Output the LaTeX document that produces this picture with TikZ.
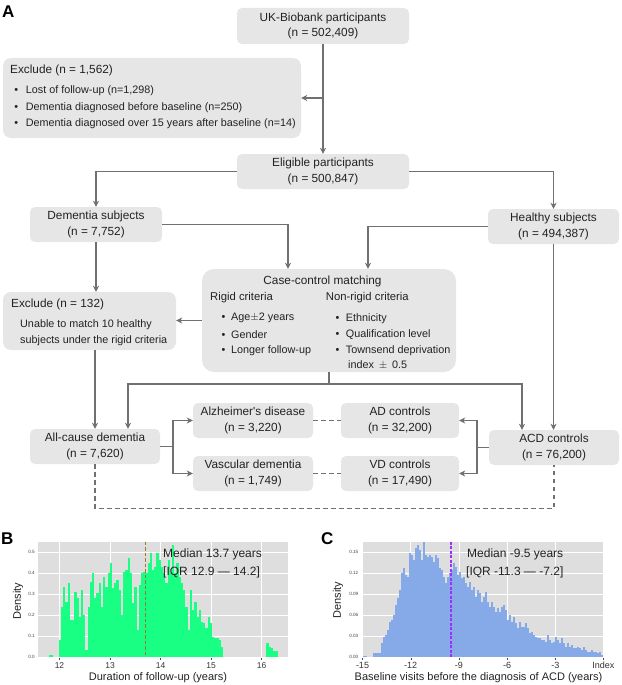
\documentclass[tikz,border=0pt]{standalone}
\usepackage{fontspec}
\setmainfont{Liberation Sans}
\usetikzlibrary{arrows.meta}
\definecolor{boxfill}{HTML}{E6E6E6}
\definecolor{lnc}{HTML}{707070}
\definecolor{txt}{HTML}{222222}
\definecolor{plotbg}{HTML}{DEDEDE}
\definecolor{histgreen}{HTML}{19FF84}
\definecolor{histblue}{HTML}{86AAE8}
\definecolor{medB}{HTML}{9A7A28}
\definecolor{medC}{HTML}{9B30FF}
\newcommand{\bl}[2][11.5pt]{\makebox[#1][l]{\textbullet}#2}
\tikzset{
 box/.style={fill=boxfill, rounded corners=5pt, inner sep=0pt, align=center, text=txt,
   font=\fontsize{11.8}{15.5}\selectfont},
 lbl/.style={inner sep=0pt, anchor=west, text=txt, font=\fontsize{11.8}{14}\selectfont},
 blt/.style={inner sep=0pt, anchor=west, text=txt, font=\fontsize{10.8}{13}\selectfont},
 conn/.style={draw=lnc, line width=1.3pt},
 arr/.style={conn, -{Stealth[length=6pt,width=6pt,inset=1.8pt]}},
 dsh/.style={draw=lnc, line width=1.2pt, dash pattern=on 4.5pt off 3.5pt},
 panel/.style={inner sep=0pt, anchor=west, font=\fontsize{17}{17}\bfseries},
 ytk/.style={inner sep=0pt, anchor=east, text=black!75, font=\fontsize{4.6}{5}\selectfont},
 xtk/.style={inner sep=0pt, anchor=center, text=black!80},
 axt/.style={inner sep=0pt, anchor=center, text=txt, font=\fontsize{11}{13}\selectfont},
 ann/.style={inner sep=0pt, anchor=west, text=txt, font=\fontsize{12}{14}\selectfont},
 grd/.style={draw=white, line width=0.5pt},
}
\begin{document}
\begin{tikzpicture}[x=1pt,y=-1pt]
\useasboundingbox (0,0) rectangle (621,685);

% ---------- Panel A ----------
\node[panel] (pa) at (2,12) {A};

\node[box, minimum width=172pt, minimum height=36pt] (uk) at (323,26) {UK-Biobank participants\\(n = 502,409)};
\node[box, rounded corners=8pt, minimum width=298pt, minimum height=80pt] (ex1) at (152,98) {};
\node[lbl] (ex1t) at (10,70) {Exclude (n = 1,562)};
\node[blt] (ex1a) at (14.2,90.7) {\bl{Lost of follow-up (n=1,298)}};
\node[blt] (ex1b) at (14.2,107.3) {\bl{Dementia diagnosed before baseline (n=250)}};
\node[blt] (ex1c) at (14.2,124) {\bl{Dementia diagnosed over 15 years after baseline (n=14)}};

\node[box, minimum width=172pt, minimum height=35pt] (elig) at (323,171.5) {Eligible participants\\(n = 500,847)};
\node[box, minimum width=132pt, minimum height=35pt] (dem) at (96,224.5) {Dementia subjects\\(n = 7,752)};
\node[box, minimum width=131pt, minimum height=35pt] (hea) at (553.5,226.5) {Healthy subjects\\(n = 494,387)};

\node[box, rounded corners=12pt, minimum width=254pt, minimum height=103pt] (cc) at (329,320.5) {};
\node[lbl, anchor=center] (cct) at (322.5,281) {Case-control matching};
\node[lbl, font=\fontsize{11.3}{13}\selectfont] (ccr) at (210,298) {Rigid criteria};
\node[lbl, font=\fontsize{11.3}{13}\selectfont] (ccn) at (325.7,298) {Non-rigid criteria};
\node[blt] (cr1) at (221.4,318.3) {\bl[9.6pt]{Age$\pm$2 years}};
\node[blt] (cr2) at (221.4,335) {\bl[9.6pt]{Gender}};
\node[blt] (cr3) at (221.4,350.7) {\bl[9.6pt]{Longer follow-up}};
\node[blt] (cn1) at (335.4,318.3) {\bl[10.3pt]{Ethnicity}};
\node[blt] (cn2) at (335.4,335) {\bl[10.3pt]{Qualification level}};
\node[blt] (cn3) at (335.4,350.7) {\bl[10.3pt]{Townsend deprivation}};
\node[blt] (cn4) at (348,365) {index\, $\pm$\, 0.5};

\node[box, rounded corners=8pt, minimum width=173pt, minimum height=58pt] (ex2) at (89.5,321) {};
\node[lbl] (ex2t) at (11,304.5) {Exclude (n = 132)};
\node[blt] (ex2a) at (20,324.5) {Unable to match 10 healthy};
\node[blt] (ex2b) at (20,341) {subjects under the rigid criteria};

\node[box, minimum width=130pt, minimum height=35pt] (acd) at (95,446.5) {All-cause dementia\\(n = 7,620)};
\node[box, minimum width=120pt, minimum height=35pt] (ad) at (253,420.5) {Alzheimer\textquotesingle s disease\\(n = 3,220)};
\node[box, minimum width=120pt, minimum height=35pt] (vd) at (253,473.5) {Vascular dementia\\(n = 1,749)};
\node[box, minimum width=118pt, minimum height=35pt] (adc) at (400,420.5) {AD controls\\(n = 32,200)};
\node[box, minimum width=118pt, minimum height=35pt] (vdc) at (400,473.5) {VD controls\\(n = 17,490)};
\node[box, minimum width=130pt, minimum height=35pt] (acdc) at (554,447.5) {ACD controls\\(n = 76,200)};

% connectors
\draw[arr] (uk.south) -- (elig.north);
\coordinate (j1) at (323,98);
\draw[arr] (j1) -- (ex1.east);
\draw[arr] (elig.west) -| (dem.north);
\draw[arr] (elig.east) -| (hea.north);
\draw[arr] (dem.east) -| ([xshift=-41pt]cc.north);
\draw[arr] (hea.west) -| ([xshift=39pt]cc.north);
\draw[arr] (dem.south) -- (dem.south |- ex2.north);
\draw[arr] (cc.west) -- (cc.west -| ex2.east);
\draw[arr] (acd.north |- ex2.south) -- (acd.north);
\coordinate (j2) at (329,384);
\draw[conn] (cc.south) -- (j2);
\draw[arr] (j2) -| ([xshift=33pt]acd.north);
\draw[arr] (j2) -| ([xshift=-32pt]acdc.north);
\draw[arr] (hea.south) -- (hea.south |- acdc.north);
\coordinate (j3) at (173,446.5);
\draw[conn] (acd.east) -- (j3);
\draw[arr] (j3) |- (ad.west);
\draw[arr] (j3) |- (vd.west);
\coordinate (j4) at (477,447.5);
\draw[conn] (acdc.west) -- (j4);
\draw[arr] (j4) |- (adc.east);
\draw[arr] (j4) |- (vdc.east);
\draw[dsh] (ad.east) -- (adc.west);
\draw[dsh] (vd.east) -- (vdc.west);
\draw[dsh] (acd.south) -- ++(0,44) -| (acdc.south);

% ---------- Panel B ----------
\node[panel] (pb) at (1,539) {B};
\fill[plotbg] (38.3,541.7) rectangle (288.3,658);
\foreach \y in {657,636,615,594,573,552} \draw[grd] (38.3,\y) -- (288.3,\y);
\foreach \x in {59.5,110,160.5,211,261.5} \draw[grd] (\x,541.7) -- (\x,658);
\foreach \z [count=\i from 0] in {300,200,140,185,130,240,240,155,175,230,150,225,330,200,125,100,175,160,130,200,110,140,100,70,145,130,120,150,225,95,90,55,100,190,140,270,135,100,95,100,70,40,90,80,40,60,80,100,130,60,100,15,100,70,110,130,150,200,270,150,210,185,230,210,245,250,265,230,250,290,295,295,300,320}
  \fill[histgreen] ({58.67+2.222*\i},657) rectangle ({58.67+2.222*(\i+1)+0.15},{540+\z/3});
\foreach \z [count=\i from 0] in {310,320,325,333,333}
  \fill[histgreen] ({266.3+2.222*\i},657) rectangle ({266.3+2.222*(\i+1)+0.15},{540+\z/3});
\foreach \i in {0,1}
  \fill[histgreen] ({49+2.222*\i},657) rectangle ({49+2.222*(\i+1)},{540+346/3});
\draw[medB, line width=1.3pt, dash pattern=on 3.5pt off 2pt] (145.5,541.7) -- (145.5,657);
\foreach \v/\y in {0.5/552,0.4/573,0.3/594,0.2/615,0.1/636,0.0/657}
  \node[ytk] (byt\v) at (35,\y) {\v};
\foreach \v/\x in {12/59.5,13/110,14/160.5,15/211,16/261.5}{
  \draw[black!70, line width=0.4pt] (\x,658) -- (\x,660);
  \node[xtk, font=\fontsize{8.5}{9}\selectfont] (bxt\v) at (\x,666) {\v};}
\node[ann] (bm1) at (163,554) {Median 13.7 years};
\node[ann] (bm2) at (163,572) {[IQR 12.9 — 14.2]};
\node[axt] (bxl) at (158,677.5) {Duration of follow-up (years)};
\node[axt, rotate=90] (byl) at (18,601) {Density};

% ---------- Panel C ----------
\node[panel] (pc) at (321,539) {C};
\fill[plotbg] (361.5,541.7) rectangle (604,658);
\foreach \y in {657,636,615,594,573,552} \draw[grd] (361.5,\y) -- (604,\y);
\foreach \x in {362.5,410.7,458.9,507.1,555.3,603.4} \draw[grd] (\x,541.7) -- (\x,658);
\fill[histblue] (363.3,657) rectangle (366.7,655.5);
\foreach \z [count=\i from 0] in {340,340,340,340,310,290,285,270,245,240,225,195,175,150,100,85,105,110,40,45,60,25,15,30,60,5,45,50,45,50,65,45,55,85,90,110,130,110,100,90,70,80,105,95,115,110,130,140,125,150,140,170,150,160,185,170,155,185,200,185,200,215,205,215,200,195,210,240,225,245,230,250,265,245,260,260,250,265,280,275,285,290,295,295,300,300,305,285,300,310,305,290,300,310,295,310,320,310,320,315,325,325,320,325,330,320,330,335,335,330,335,335,340,335,345}
  \fill[histblue] ({373.33+2*\i},657) rectangle ({373.33+2*(\i+1)+0.15},{540+\z/3});
\draw[medC, line width=1.5pt, dash pattern=on 3pt off 1.5pt] (451,541.7) -- (451,657);
\foreach \v/\y in {0.15/552,0.12/573,0.09/594,0.06/615,0.03/636,0.00/657}
  \node[ytk] (cyt\v) at (358.5,\y) {\v};
\foreach \v/\x in {-15/362.5,-12/410.7,-9/458.9,-6/507.1,-3/555.3,Index/603.4}{
  \draw[black!70, line width=0.4pt] (\x,658) -- (\x,660);
  \node[xtk, font=\fontsize{9}{10}\selectfont] (cxt\v) at (\x,665.7) {\v};}
\node[ann] (cm1) at (467,554) {Median -9.5 years};
\node[ann] (cm2) at (466,572) {[IQR -11.3 — -7.2]};
\node[axt] (cxl) at (478.5,677.5) {Baseline visits before the diagnosis of ACD (years)};
\node[axt, rotate=90] (cyl) at (338,600) {Density};
\end{tikzpicture}
\end{document}
